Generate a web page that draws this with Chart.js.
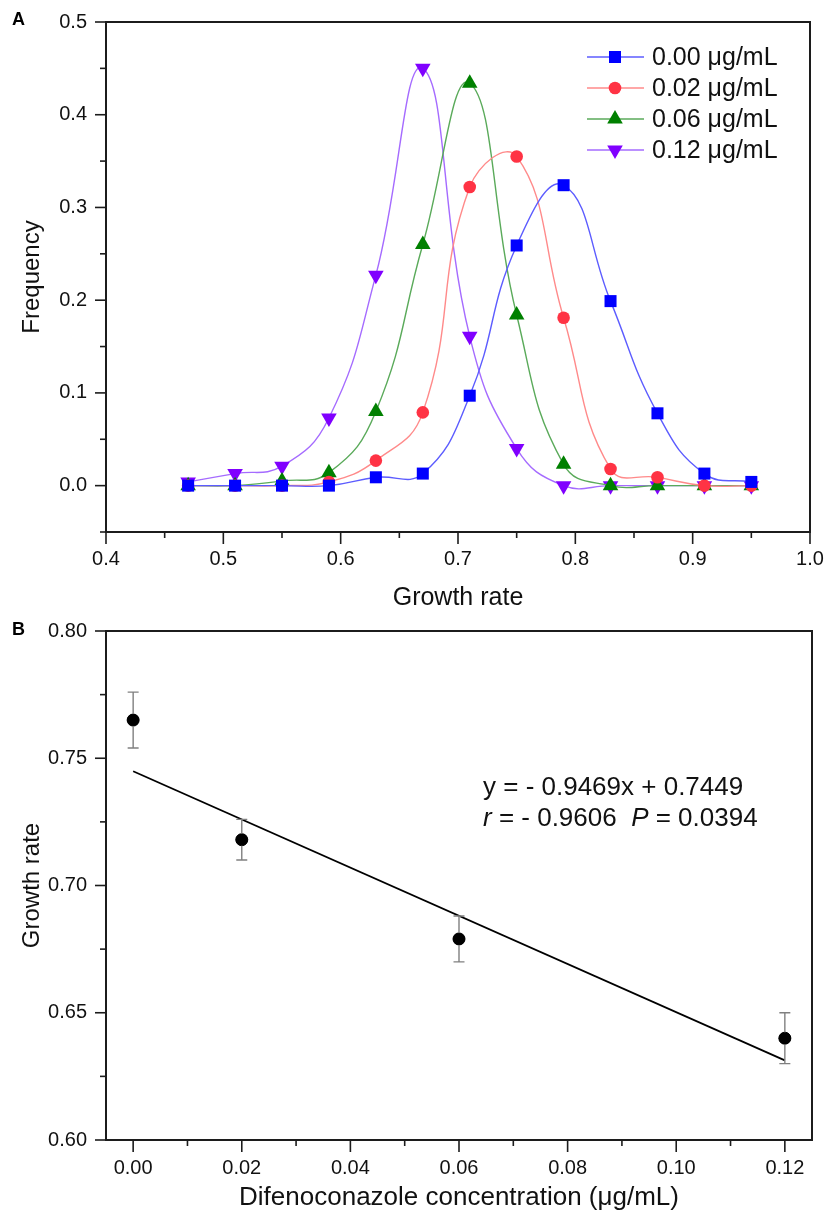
<!DOCTYPE html>
<html><head><meta charset="utf-8">
<script src="https://cdn.jsdelivr.net/npm/chart.js@4.4.0/dist/chart.umd.min.js"></script>
<style>
html,body{margin:0;padding:0;background:#fff;}
#wrap{position:relative;width:827px;height:1219px;overflow:hidden;background:#fff;}
#ca{position:absolute;left:0;top:0;}
#cb{position:absolute;left:0;top:615px;}
</style></head><body>
<div id="wrap"><canvas id="ca" width="827" height="615"></canvas><canvas id="cb" width="827" height="604"></canvas></div>
<script>
// ---------- Panel A data ----------
const growthRates = [0.47,0.51,0.55,0.59,0.63,0.67,0.71,0.75,0.79,0.83,0.87,0.91,0.95];
const seriesLabels = ['0.00 μg/mL','0.02 μg/mL','0.06 μg/mL','0.12 μg/mL'];
const freq000 = [0,0,0,0,0.009,0.013,0.097,0.259,0.324,0.199,0.078,0.013,0.004];
const freq002 = [0,0,0,0.004,0.027,0.079,0.322,0.355,0.181,0.018,0.009,0,0];
const freq006 = [0,0,0.005,0.014,0.080,0.260,0.434,0.184,0.023,0,0,0,0];
const freq012 = [0.004,0.013,0.021,0.073,0.227,0.450,0.161,0.040,0,0,0,0,0];
const rateTicks = [0.4,0.5,0.6,0.7,0.8,0.9,1.0];
const freqTicks = [0.0,0.1,0.2,0.3,0.4,0.5];

// ---------- Panel B data ----------
const concentrations = [0,0.02,0.06,0.12];
const meanGrowth = [0.765,0.718,0.679,0.640];
const growthErr = [0.011,0.008,0.009,0.010];
const fitSlope = -0.9469, fitIntercept = 0.7449, fitR = -0.9606, fitP = 0.0394;
const fitRange = [0,0.12];
const concTicks = [0.00,0.02,0.04,0.06,0.08,0.10,0.12];
const growthTicks = [0.60,0.65,0.70,0.75,0.80];

const FONT = "'Liberation Sans', Arial, Helvetica, sans-serif";
Chart.defaults.font.family = FONT;
Chart.defaults.color = '#111';

function minorsOf(majors, min, max) {
  const step = majors[1] - majors[0];
  const out = [];
  majors.forEach(m => [m - step/2, m + step/2].forEach(v => {
    if (v >= min - 1e-9 && v <= max + 1e-9 && !out.some(u => Math.abs(u - v) < 1e-9)) out.push(v);
  }));
  return out;
}
function noPad(s) { s.paddingTop = 0; s.paddingBottom = 0; s.paddingLeft = 0; s.paddingRight = 0; }

const axisFrame = {
  id: 'axisFrame',
  afterDraw(chart, args, o) {
    const {ctx, chartArea: a} = chart;
    const xs = chart.scales.x, ys = chart.scales.y;
    ctx.save();
    ctx.strokeStyle = '#1c1c1c';
    ctx.lineWidth = 1.6;
    const tx = (vals, len) => vals.forEach(v => {
      const p = xs.getPixelForValue(v);
      ctx.beginPath(); ctx.moveTo(p, a.bottom); ctx.lineTo(p, a.bottom + len); ctx.stroke();
    });
    const ty = (vals, len) => vals.forEach(v => {
      const p = ys.getPixelForValue(v);
      ctx.beginPath(); ctx.moveTo(a.left, p); ctx.lineTo(a.left - len, p); ctx.stroke();
    });
    tx(o.xMajor, 12); tx(minorsOf(o.xMajor, xs.min, xs.max), 6);
    ty(o.yMajor, 11); ty(minorsOf(o.yMajor, ys.min, ys.max), 6);
    ctx.lineWidth = 2;
    ctx.strokeRect(a.left, a.top, a.right - a.left, a.bottom - a.top);
    // panel letter
    ctx.fillStyle = '#000';
    ctx.font = 'bold 18px ' + FONT;
    ctx.textBaseline = 'middle';
    ctx.textAlign = 'left';
    ctx.fillText(o.letter, o.letterX, o.letterY);
    ctx.restore();
  }
};

const legendA = {
  id: 'legendA',
  afterDraw(chart) {
    const ctx = chart.ctx;
    ctx.save();
    chart.data.datasets.forEach((ds, i) => {
      const y = 57 + i * 31;
      ctx.strokeStyle = ds.borderColor; ctx.lineWidth = 1.5;
      ctx.beginPath(); ctx.moveTo(587, y); ctx.lineTo(644, y); ctx.stroke();
      ctx.fillStyle = ds.pointBackgroundColor; ctx.strokeStyle = ds.pointBackgroundColor;
      Chart.helpers.drawPoint(ctx, {pointStyle: ds.pointStyle, rotation: ds.pointRotation || 0, radius: ds.pointRadius, borderWidth: 0}, 615, y);
      ctx.fillStyle = '#111';
      ctx.font = '25px ' + FONT;
      ctx.textBaseline = 'middle'; ctx.textAlign = 'left';
      ctx.fillText(ds.label, 652, y + 1);
    });
    ctx.restore();
  }
};

function tickCfg(pad, digits) {
  return { padding: pad, font: {size: 20}, color: '#111', callback: v => Number(v).toFixed(digits) };
}

// ---------- Chart A ----------
const seriesA = [freq000, freq002, freq006, freq012];
const stylesA = [
  {line: '#5c5cff', fill: '#0000ff', style: 'rect', r: 8.5, rot: 0},
  {line: '#ff8a8a', fill: '#ff3344', style: 'circle', r: 6.3, rot: 0},
  {line: '#5aaa5a', fill: '#008000', style: 'triangle', r: 9, rot: 0},
  {line: '#a56bff', fill: '#8000ff', style: 'triangle', r: 9, rot: 180}
];
new Chart(document.getElementById('ca'), {
  type: 'line',
  data: {
    datasets: seriesA.map((vals, i) => ({
      label: seriesLabels[i],
      data: growthRates.map((x, j) => ({x, y: vals[j]})),
      borderColor: stylesA[i].line,
      borderWidth: 1.4,
      tension: 0.45,
      pointStyle: stylesA[i].style,
      pointRotation: stylesA[i].rot,
      pointRadius: stylesA[i].r,
      pointBackgroundColor: stylesA[i].fill,
      pointBorderColor: stylesA[i].fill,
      pointBorderWidth: 0,
      fill: false
    }))
  },
  options: {
    responsive: false, animation: false, devicePixelRatio: 1,
    layout: {padding: {top: 22, right: 17, left: 0, bottom: 0}},
    plugins: {
      legend: {display: false}, tooltip: {enabled: false},
      axisFrame: {xMajor: rateTicks, yMajor: freqTicks, letter: 'A', letterX: 12, letterY: 20}
    },
    scales: {
      x: {
        type: 'linear', min: 0.4, max: 1.0,
        grid: {display: false, drawTicks: false}, border: {display: false},
        afterBuildTicks: s => { s.ticks = rateTicks.map(v => ({value: v})); },
        afterFit: s => { s.height = 83; noPad(s); },
        ticks: tickCfg(15, 1),
        title: {display: true, text: 'Growth rate', font: {size: 25}, color: '#111', padding: {top: 0, bottom: 2}}
      },
      y: {
        type: 'linear', min: -0.05, max: 0.5,
        grid: {display: false, drawTicks: false}, border: {display: false},
        afterBuildTicks: s => { s.ticks = freqTicks.map(v => ({value: v})); },
        afterFit: s => { s.width = 106; noPad(s); },
        ticks: tickCfg(19, 1),
        title: {display: true, text: 'Frequency', font: {size: 24}, color: '#111', padding: {top: 18, bottom: 0}}
      }
    }
  },
  plugins: [axisFrame, legendA]
});

// ---------- Chart B ----------
const errorBars = {
  id: 'errorBars',
  afterDatasetsDraw(chart) {
    const {ctx} = chart; const xs = chart.scales.x, ys = chart.scales.y;
    ctx.save();
    ctx.strokeStyle = '#808080'; ctx.lineWidth = 1.4;
    concentrations.forEach((c, i) => {
      const px = xs.getPixelForValue(c);
      const top = ys.getPixelForValue(meanGrowth[i] + growthErr[i]);
      const bot = ys.getPixelForValue(meanGrowth[i] - growthErr[i]);
      ctx.beginPath();
      ctx.moveTo(px, top); ctx.lineTo(px, bot);
      ctx.moveTo(px - 5.5, top); ctx.lineTo(px + 5.5, top);
      ctx.moveTo(px - 5.5, bot); ctx.lineTo(px + 5.5, bot);
      ctx.stroke();
    });
    ctx.fillStyle = '#000';
    concentrations.forEach((c, i) => {
      ctx.beginPath();
      ctx.arc(xs.getPixelForValue(c), ys.getPixelForValue(meanGrowth[i]), 6, 0, Math.PI * 2);
      ctx.fill();
    });
    // annotation
    ctx.fillStyle = '#111';
    ctx.textBaseline = 'alphabetic'; ctx.textAlign = 'left';
    ctx.font = '26px ' + FONT;
    const x0 = 483;
    ctx.fillText('y = - ' + Math.abs(fitSlope).toFixed(4) + 'x + ' + fitIntercept.toFixed(4), x0, 180);
    const parts = [['r', true], [' = - ' + Math.abs(fitR).toFixed(4) + '  ', false], ['P', true], [' = ' + fitP.toFixed(4), false]];
    let x = x0;
    parts.forEach(([t, it]) => {
      ctx.font = (it ? 'italic ' : '') + '26px ' + FONT;
      ctx.fillText(t, x, 211);
      x += ctx.measureText(t).width;
    });
    ctx.restore();
  }
};

new Chart(document.getElementById('cb'), {
  type: 'scatter',
  data: {
    datasets: [
      {
        label: 'Fit',
        data: fitRange.map(x => ({x, y: fitSlope * x + fitIntercept})),
        showLine: true, borderColor: '#000', borderWidth: 1.8, pointRadius: 0, fill: false
      },
      {
        label: 'Growth rate',
        data: concentrations.map((x, i) => ({x, y: meanGrowth[i]})),
        pointRadius: 6, pointBackgroundColor: '#000', pointBorderColor: '#000', showLine: false
      }
    ]
  },
  options: {
    responsive: false, animation: false, devicePixelRatio: 1,
    layout: {padding: {top: 16, right: 15, left: 0, bottom: 0}},
    plugins: {
      legend: {display: false}, tooltip: {enabled: false},
      axisFrame: {xMajor: concTicks, yMajor: growthTicks, letter: 'B', letterX: 12, letterY: 15}
    },
    scales: {
      x: {
        type: 'linear', min: -0.005, max: 0.125,
        grid: {display: false, drawTicks: false}, border: {display: false},
        afterBuildTicks: s => { s.ticks = concTicks.map(v => ({value: v})); },
        afterFit: s => { s.height = 79; noPad(s); },
        ticks: tickCfg(16, 2),
        title: {display: true, text: 'Difenoconazole concentration (μg/mL)', font: {size: 26}, color: '#111', padding: {top: 0, bottom: 6}}
      },
      y: {
        type: 'linear', min: 0.60, max: 0.80,
        grid: {display: false, drawTicks: false}, border: {display: false},
        afterBuildTicks: s => { s.ticks = growthTicks.map(v => ({value: v})); },
        afterFit: s => { s.width = 106; noPad(s); },
        ticks: tickCfg(19, 2),
        title: {display: true, text: 'Growth rate', font: {size: 24}, color: '#111', padding: {top: 18, bottom: 0}}
      }
    }
  },
  plugins: [axisFrame, errorBars]
});
</script>
</body></html>
